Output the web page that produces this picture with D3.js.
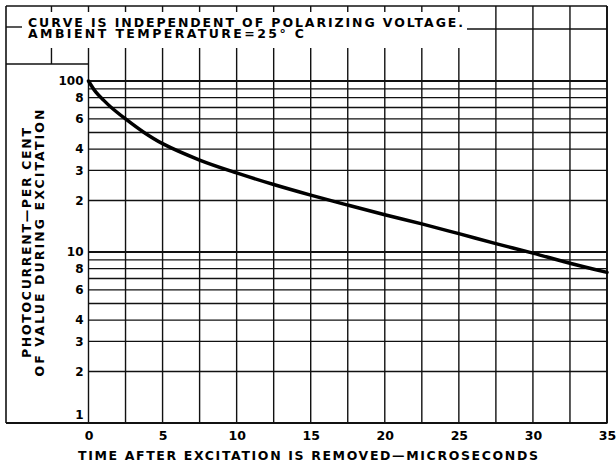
<!DOCTYPE html>
<html>
<head>
<meta charset="utf-8">
<script src="https://cdn.jsdelivr.net/npm/d3@7"></script>
<style>
  body { margin: 0; background: #fff; }
  svg text { font-family: "DejaVu Sans", sans-serif; font-weight: bold; fill: #000; }
</style>
</head>
<body>
<svg id="chart"></svg>
<script>
// values
var timeUs = [0, 0.5, 1, 1.5, 2.5, 3.75, 5, 7.5, 10, 12.5, 15, 17.5, 20, 22.5, 25, 27.5, 30, 32.5, 35];
var photocurrentPct = [100, 86, 77.5, 70.5, 60, 50, 43, 34.5, 29, 24.8, 21.5, 18.8, 16.5, 14.6, 12.8, 11.2, 9.85, 8.6, 7.6];

var xTicks = [0, 5, 10, 15, 20, 25, 30, 35];
var xGridValues = [-2.5, 0, 2.5, 5, 7.5, 10, 12.5, 15, 17.5, 20, 22.5, 25, 27.5, 30, 32.5, 35];
var yGridValues = [100, 90, 80, 70, 60, 50, 40, 30, 20, 10, 9, 8, 7, 6, 5, 4, 3, 2, 1];
var yTickValues = [100, 80, 60, 40, 30, 20, 10, 8, 6, 4, 3, 2, 1];
var yTickLabels = ["100", "8", "6", "4", "3", "2", "10", "8", "6", "4", "3", "2", "1"];

var titleLines = ["CURVE IS INDEPENDENT OF POLARIZING VOLTAGE.", "AMBIENT TEMPERATURE=25\u00B0 C"];
var yTitleLines = ["PHOTOCURRENT\u2014PER CENT", "OF VALUE DURING EXCITATION"];
var xTitle = "TIME AFTER EXCITATION IS REMOVED\u2014MICROSECONDS";

(function() {
  var W = 616, H = 466;
  var plotL = 88.5, plotR = 607, plotT = 81, plotB = 423;
  var frameT = 6, frameL = 6;

  var svg = d3.select('#chart').attr('width', W).attr('height', H);

  var x = d3.scaleLinear().domain([0, 35]).range([plotL, plotR]);
  var y = d3.scaleLog().domain([1, 100]).range([plotB, plotT]);

  var ink = '#111';

  // vertical grid, running up to the frame top
  svg.append('g').selectAll('line').data(xGridValues).enter().append('line')
    .attr('x1', function(d) { return x(d); })
    .attr('x2', function(d) { return x(d); })
    .attr('y1', frameT)
    .attr('y2', function(d) { return d < 0 ? 64 : plotB; })
    .attr('stroke', ink)
    .attr('stroke-width', 1.4);

  // horizontal grid
  svg.append('g').selectAll('line').data(yGridValues).enter().append('line')
    .attr('x1', plotL)
    .attr('x2', plotR)
    .attr('y1', function(d) { return y(d); })
    .attr('y2', function(d) { return y(d); })
    .attr('stroke', ink)
    .attr('stroke-width', function(d) { return (d == 10 || d == 100) ? 1.8 : 1.3; });

  // frame
  svg.append('line').attr('x1', frameL).attr('x2', plotR).attr('y1', frameT).attr('y2', frameT)
    .attr('stroke', ink).attr('stroke-width', 1.6);
  svg.append('line').attr('x1', frameL).attr('x2', plotR + 0.5).attr('y1', plotB).attr('y2', plotB)
    .attr('stroke', ink).attr('stroke-width', 1.8);
  svg.append('line').attr('x1', frameL).attr('x2', frameL).attr('y1', frameT).attr('y2', plotB)
    .attr('stroke', ink).attr('stroke-width', 1.6);
  svg.append('line').attr('x1', plotR).attr('x2', plotR).attr('y1', frameT).attr('y2', plotB)
    .attr('stroke', ink).attr('stroke-width', 1.8);
  // box for the y title
  svg.append('line').attr('x1', frameL).attr('x2', plotL).attr('y1', 64).attr('y2', 64)
    .attr('stroke', ink).attr('stroke-width', 1.4);

  // title block
  svg.append('rect').attr('x', 22).attr('y', 12).attr('width', 445).attr('height', 36).attr('fill', '#fff');
  svg.append('line').attr('x1', frameL).attr('x2', 22).attr('y1', 27).attr('y2', 27)
    .attr('stroke', ink).attr('stroke-width', 1.4);
  svg.append('line').attr('x1', 467).attr('x2', plotR).attr('y1', 29).attr('y2', 29)
    .attr('stroke', ink).attr('stroke-width', 1.4);
  svg.append('text').attr('x', 28).attr('y', 26.5).attr('font-size', 12.5)
    .attr('textLength', 435).attr('lengthAdjust', 'spacing').text(titleLines[0]);
  svg.append('text').attr('x', 28).attr('y', 38).attr('font-size', 12.5)
    .attr('textLength', 276).attr('lengthAdjust', 'spacing').text(titleLines[1]);

  // curve
  var line = d3.line()
    .x(function(d) { return x(d[0]); })
    .y(function(d) { return y(d[1]); })
    .curve(d3.curveCatmullRom.alpha(0.5));
  svg.append('path')
    .datum(timeUs.map(function(t, i) { return [t, photocurrentPct[i]]; }))
    .attr('d', line)
    .attr('fill', 'none')
    .attr('stroke', '#000')
    .attr('stroke-width', 3.5)
    .attr('stroke-linecap', 'round');

  // y axis labels
  var yAxis = d3.axisLeft(y)
    .tickValues(yTickValues)
    .tickSize(0)
    .tickPadding(5)
    .tickFormat(function(d, i) { return yTickLabels[i]; });
  var gy = svg.append('g').attr('transform', 'translate(' + plotL + ',0)').call(yAxis);
  gy.select('.domain').remove();
  gy.selectAll('text').attr('font-size', 12).attr('font-family', '"DejaVu Sans", sans-serif')
    .attr('font-weight', 'bold').attr('fill', '#000');
  gy.selectAll('.tick').filter(function(d) { return d == 1; }).select('text').attr('dy', '-0.35em');

  // x axis labels
  var xAxis = d3.axisBottom(x).tickValues(xTicks).tickSize(0).tickPadding(8);
  var gx = svg.append('g').attr('transform', 'translate(0,' + plotB + ')').call(xAxis);
  gx.select('.domain').remove();
  gx.selectAll('text').attr('font-size', 12.5).attr('font-family', '"DejaVu Sans", sans-serif')
    .attr('font-weight', 'bold').attr('fill', '#000');

  // axis titles
  svg.append('text').attr('x', 308).attr('y', 460).attr('text-anchor', 'middle').attr('font-size', 12.5)
    .attr('textLength', 460).attr('lengthAdjust', 'spacing').text(xTitle);

  svg.append('text').attr('transform', 'translate(31,243) rotate(-90)').attr('text-anchor', 'middle')
    .attr('font-size', 12.5).attr('textLength', 230).attr('lengthAdjust', 'spacing')
    .text(yTitleLines[0]);
  svg.append('text').attr('transform', 'translate(44,243) rotate(-90)').attr('text-anchor', 'middle')
    .attr('font-size', 12.5).attr('textLength', 267).attr('lengthAdjust', 'spacing')
    .text(yTitleLines[1]);
})();
</script>
</body>
</html>
